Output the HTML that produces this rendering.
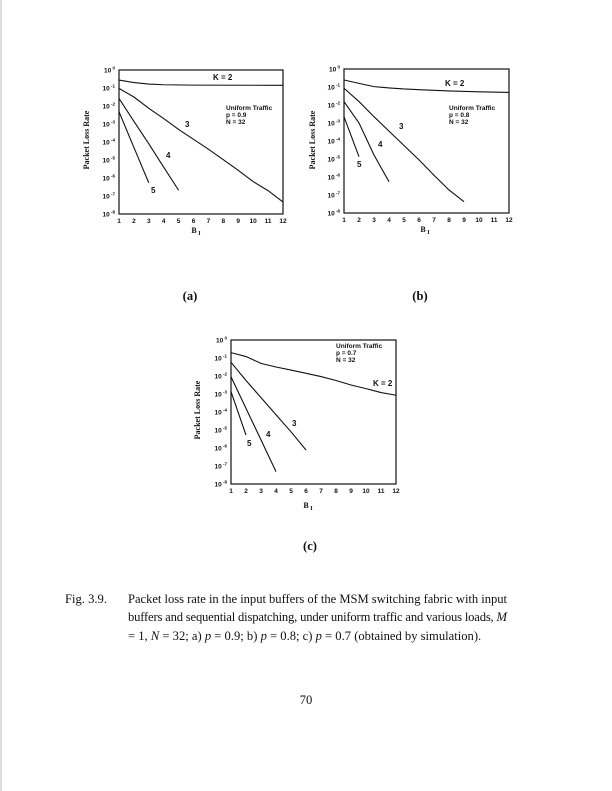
<!DOCTYPE html>
<html><head><meta charset="utf-8"><style>
html,body{margin:0;padding:0;background:#fff}
body{width:612px;height:791px;position:relative;overflow:hidden}
svg{position:absolute;left:0;top:0}
.t{font-family:"Liberation Sans",Arial,sans-serif;font-weight:bold;font-size:6.5px;fill:#111}
.a{font-family:"Liberation Sans",Arial,sans-serif;font-weight:bold;font-size:8px;fill:#111}
.s{font-family:"Liberation Serif",serif;font-weight:bold;font-size:8px;fill:#111}
.cap{font-family:"Liberation Serif",serif;font-size:12.6px;fill:#111}
.pl{font-family:"Liberation Serif",serif;font-size:12.6px;font-weight:bold;fill:#111}
.d{fill:none;stroke:#111;stroke-width:1.1;vector-effect:non-scaling-stroke}
</style></head><body>
<svg width="612" height="791" viewBox="0 0 612 791">
<line x1="1" y1="0" x2="1" y2="791" stroke="#bbb" stroke-width="1"/>

<!-- Panel a -->
<g transform="translate(119,70)">
<rect x="0" y="0" width="164" height="144" fill="none" stroke="#111" stroke-width="1.2"/>
<g class="t" text-anchor="end">
<text x="-4" y="2.5">10<tspan dy="-3" font-size="4.5"> 0</tspan></text>
<text x="-4" y="20.5">10<tspan dy="-3" font-size="4.5"> -1</tspan></text>
<text x="-4" y="38.5">10<tspan dy="-3" font-size="4.5"> -2</tspan></text>
<text x="-4" y="56.5">10<tspan dy="-3" font-size="4.5"> -3</tspan></text>
<text x="-4" y="74.5">10<tspan dy="-3" font-size="4.5"> -4</tspan></text>
<text x="-4" y="92.5">10<tspan dy="-3" font-size="4.5"> -5</tspan></text>
<text x="-4" y="110.5">10<tspan dy="-3" font-size="4.5"> -6</tspan></text>
<text x="-4" y="128.5">10<tspan dy="-3" font-size="4.5"> -7</tspan></text>
<text x="-4" y="146.5">10<tspan dy="-3" font-size="4.5"> -8</tspan></text>
</g>
<g class="t" text-anchor="middle">
<text x="0" y="153">1</text><text x="14.9" y="153">2</text><text x="29.8" y="153">3</text><text x="44.7" y="153">4</text><text x="59.6" y="153">5</text><text x="74.5" y="153">6</text><text x="89.4" y="153">7</text><text x="104.3" y="153">8</text><text x="119.2" y="153">9</text><text x="134.1" y="153">10</text><text x="149" y="153">11</text><text x="164" y="153">12</text>
</g>
<g transform="translate(-14.9,0) scale(14.9,-18)">
<polyline class="d" points="1,-0.56 2,-0.7 3,-0.78 4,-0.82 6,-0.84 12,-0.85"/>
<polyline class="d" points="1,-1.02 2,-1.5 3,-2.13 4,-2.7 5,-3.3 6,-3.85 7,-4.4 8,-4.98 9,-5.57 10,-6.2 11,-6.7 12,-7.33"/>
<polyline class="d" points="1,-1.58 2,-2.85 3,-4.1 4,-5.4 5,-6.68"/>
<polyline class="d" points="1,-2.32 2,-4.3 3,-6.27"/>
</g>
<g class="a"><text x="94" y="10">K = 2</text><text x="66" y="57">3</text><text x="47" y="88">4</text><text x="32" y="123">5</text></g>
<g class="t" font-size="6.5"><text x="107" y="40">Uniform Traffic</text><text x="107" y="47">p = 0.9</text><text x="107" y="54">N = 32</text></g>
</g>
<text class="s" transform="translate(89,140) rotate(-90)" text-anchor="middle">Packet Loss Rate</text>
<text class="s" x="196" y="233" text-anchor="middle">B<tspan dy="2" font-size="6"> I</tspan></text>
<text class="pl" x="190" y="300" text-anchor="middle">(a)</text>

<!-- Panel b -->
<g transform="translate(344,69)">
<rect x="0" y="0" width="165" height="144" fill="none" stroke="#111" stroke-width="1.2"/>
<g class="t" text-anchor="end">
<text x="-4" y="2.5">10<tspan dy="-3" font-size="4.5"> 0</tspan></text>
<text x="-4" y="20.5">10<tspan dy="-3" font-size="4.5"> -1</tspan></text>
<text x="-4" y="38.5">10<tspan dy="-3" font-size="4.5"> -2</tspan></text>
<text x="-4" y="56.5">10<tspan dy="-3" font-size="4.5"> -3</tspan></text>
<text x="-4" y="74.5">10<tspan dy="-3" font-size="4.5"> -4</tspan></text>
<text x="-4" y="92.5">10<tspan dy="-3" font-size="4.5"> -5</tspan></text>
<text x="-4" y="110.5">10<tspan dy="-3" font-size="4.5"> -6</tspan></text>
<text x="-4" y="128.5">10<tspan dy="-3" font-size="4.5"> -7</tspan></text>
<text x="-4" y="146.5">10<tspan dy="-3" font-size="4.5"> -8</tspan></text>
</g>
<g class="t" text-anchor="middle">
<text x="0" y="153">1</text><text x="15" y="153">2</text><text x="30" y="153">3</text><text x="45" y="153">4</text><text x="60" y="153">5</text><text x="75" y="153">6</text><text x="90" y="153">7</text><text x="105" y="153">8</text><text x="120" y="153">9</text><text x="135" y="153">10</text><text x="150" y="153">11</text><text x="165" y="153">12</text>
</g>
<g transform="translate(-15,0) scale(15,-18)">
<polyline class="d" points="1,-0.61 2,-0.8 3,-0.98 4,-1.05 5,-1.11 6,-1.15 8,-1.22 10,-1.27 12,-1.3"/>
<polyline class="d" points="1,-1.07 2,-1.81 3,-2.65 4,-3.45 5,-4.25 6,-5.05 7,-5.9 8,-6.72 9,-7.37"/>
<polyline class="d" points="1,-1.81 2,-3.0 3,-4.78 4,-6.26"/>
<polyline class="d" points="1,-2.65 2,-4.87"/>
</g>
<g class="a"><text x="101" y="17">K = 2</text><text x="55" y="60">3</text><text x="34" y="78">4</text><text x="13" y="98">5</text></g>
<g class="t"><text x="105" y="41">Uniform Traffic</text><text x="105" y="48">p = 0.8</text><text x="105" y="55">N = 32</text></g>
</g>
<text class="s" transform="translate(315,140) rotate(-90)" text-anchor="middle">Packet Loss Rate</text>
<text class="s" x="425" y="232" text-anchor="middle">B<tspan dy="2" font-size="6"> I</tspan></text>
<text class="pl" x="420" y="300" text-anchor="middle">(b)</text>

<!-- Panel c -->
<g transform="translate(231,340)">
<rect x="0" y="0" width="165" height="144" fill="none" stroke="#111" stroke-width="1.2"/>
<g class="t" text-anchor="end">
<text x="-4" y="2.5">10<tspan dy="-3" font-size="4.5"> 0</tspan></text>
<text x="-4" y="20.5">10<tspan dy="-3" font-size="4.5"> -1</tspan></text>
<text x="-4" y="38.5">10<tspan dy="-3" font-size="4.5"> -2</tspan></text>
<text x="-4" y="56.5">10<tspan dy="-3" font-size="4.5"> -3</tspan></text>
<text x="-4" y="74.5">10<tspan dy="-3" font-size="4.5"> -4</tspan></text>
<text x="-4" y="92.5">10<tspan dy="-3" font-size="4.5"> -5</tspan></text>
<text x="-4" y="110.5">10<tspan dy="-3" font-size="4.5"> -6</tspan></text>
<text x="-4" y="128.5">10<tspan dy="-3" font-size="4.5"> -7</tspan></text>
<text x="-4" y="146.5">10<tspan dy="-3" font-size="4.5"> -8</tspan></text>
</g>
<g class="t" text-anchor="middle">
<text x="0" y="153">1</text><text x="15" y="153">2</text><text x="30" y="153">3</text><text x="45" y="153">4</text><text x="60" y="153">5</text><text x="75" y="153">6</text><text x="90" y="153">7</text><text x="105" y="153">8</text><text x="120" y="153">9</text><text x="135" y="153">10</text><text x="150" y="153">11</text><text x="165" y="153">12</text>
</g>
<g transform="translate(-15,0) scale(15,-18)">
<polyline class="d" points="1,-0.7 2,-0.92 3,-1.3 4,-1.5 5,-1.67 6,-1.85 7,-2.03 8,-2.25 9,-2.5 10,-2.7 11,-2.92 12,-3.07"/>
<polyline class="d" points="1,-1.24 2,-2.25 3,-3.2 4,-4.15 5,-5.1 6,-6.11"/>
<polyline class="d" points="1,-2.04 2,-3.8 3,-5.55 4,-7.31"/>
<polyline class="d" points="1,-2.87 2,-5.28"/>
</g>
<g class="a"><text x="142" y="46">K = 2</text><text x="61" y="86">3</text><text x="35" y="97">4</text><text x="16" y="106">5</text></g>
<g class="t"><text x="105" y="8">Uniform Traffic</text><text x="105" y="15">p = 0.7</text><text x="105" y="22">N = 32</text></g>
</g>
<text class="s" transform="translate(200,410) rotate(-90)" text-anchor="middle">Packet Loss Rate</text>
<text class="s" x="308" y="508" text-anchor="middle">B<tspan dy="2" font-size="6"> I</tspan></text>
<text class="pl" x="310" y="550" text-anchor="middle">(c)</text>

<!-- Caption -->
<text class="cap" x="65" y="603">Fig. 3.9.</text>
<text class="cap" x="128" y="603" textLength="379" lengthAdjust="spacing">Packet loss rate in the input buffers of the MSM switching fabric with input</text>
<text class="cap" x="128" y="621" textLength="379" lengthAdjust="spacing">buffers and sequential dispatching, under uniform traffic and various loads, <tspan font-style="italic">M</tspan></text>
<text class="cap" x="128" y="640">= 1, <tspan font-style="italic">N</tspan> = 32; a) <tspan font-style="italic">p</tspan> = 0.9; b) <tspan font-style="italic">p</tspan> = 0.8; c) <tspan font-style="italic">p</tspan> = 0.7 (obtained by simulation).</text>
<text class="cap" x="306" y="704" text-anchor="middle">70</text>
</svg>
</body></html>
